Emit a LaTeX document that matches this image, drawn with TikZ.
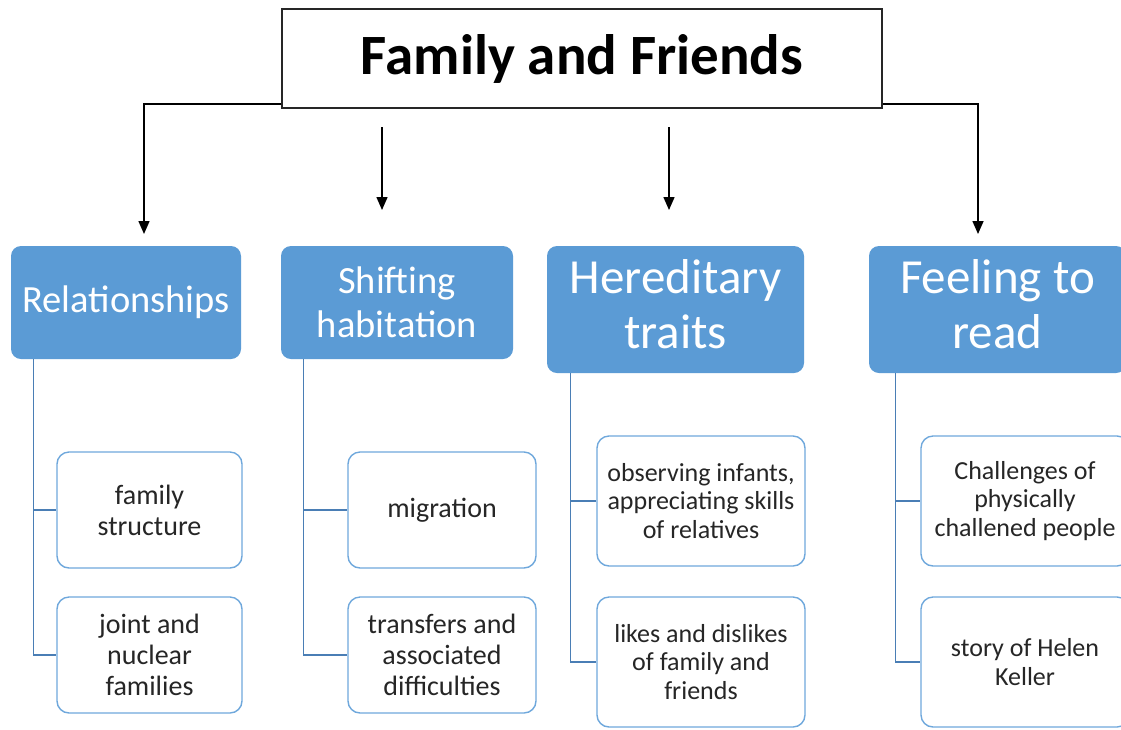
\documentclass[tikz,border=0pt]{standalone}
\usepackage{fontspec}
\setmainfont{Carlito}
\usetikzlibrary{arrows.meta,calc}
\definecolor{hdrblue}{HTML}{5B9BD5}
\definecolor{linkblue}{HTML}{4A7EB5}
\definecolor{childedge}{HTML}{6FA8DC}
\definecolor{txtdark}{HTML}{262626}
\tikzset{
  topbox/.style={draw=black!85, line width=1.4pt, fill=white, minimum width=600pt, minimum height=99pt, inner sep=0pt, font=\fontsize{57}{60}\selectfont\bfseries, text=black},
  hdr/.style={fill=hdrblue, rounded corners=10pt, inner sep=0pt, text=white, align=center},
  hdrsmall/.style={hdr, font=\fontsize{38.5}{44}\selectfont},
  hdrbig/.style={hdr, font=\fontsize{49}{55}\selectfont},
  child/.style={draw=childedge, line width=1.4pt, fill=white, rounded corners=12pt, inner sep=0pt, align=center, text=txtdark},
  childA/.style={child, minimum height=116pt, font=\fontsize{28}{31}\selectfont},
  childB/.style={child, minimum width=208pt, minimum height=130pt, font=\fontsize{26}{28.5}\selectfont},
  conn/.style={draw=linkblue, line width=1.2pt},
  arr/.style={draw=black, line width=1.5pt, -{Triangle[length=13pt,width=11pt]}}
}
\begin{document}
\begin{tikzpicture}[x=1pt,y=-1pt]
\useasboundingbox (0,0) rectangle (1121,729);
\clip (0,0) rectangle (1121,729);
\fill[white] (0,0) rectangle (1121,729);

\node[topbox] (top) at (582,58.5) {Family and Friends};

\node[hdrsmall, minimum width=230pt, minimum height=113pt] (rel) at (126,302.5) {Relationships};
\node[hdrsmall, minimum width=232pt, minimum height=113pt] (shift) at (397,302.5) {Shifting\\habitation};
\node[hdrbig, minimum width=257pt, minimum height=127pt] (her) at (675.5,309.5) {\raisebox{3pt}{\begin{tabular}{@{}c@{}}Hereditary\\traits\end{tabular}}};
\node[hdrbig, minimum width=257pt, minimum height=127pt] (feel) at (997.5,309.5) {\raisebox{3pt}{\begin{tabular}{@{}c@{}}Feeling to\\read\end{tabular}}};

\coordinate (a1) at (144,234);
\coordinate (a2s) at (382,127);
\coordinate (a2e) at (382,210);
\coordinate (a3s) at (669,127);
\coordinate (a3e) at (669,210);
\coordinate (a4) at (978,234);

\draw[arr] ([yshift=-45.5pt]top.west) -| (a1);
\draw[arr] (a2s) -- (a2e);
\draw[arr] (a3s) -- (a3e);
\draw[arr] ([yshift=-45.5pt]top.east) -| (a4);

\node[childA, minimum width=185pt] (rel1) at (149.5,510) {family\\structure};
\node[childA, minimum width=185pt] (rel2) at (149.5,655) {joint and\\nuclear\\families};
\node[childA, minimum width=188pt] (sh1) at (442,510) {migration};
\node[childA, minimum width=188pt] (sh2) at (442,655) {transfers and\\associated\\difficulties};
\node[childB] (her1) at (701,501) {observing infants,\\appreciating skills\\of relatives};
\node[childB] (her2) at (701,662) {likes and dislikes\\of family and\\friends};
\node[childB] (fe1) at (1025,501) {Challenges of\\physically\\challened people};
\node[childB] (fe2) at (1025,662) {story of Helen\\Keller};

\draw[conn] ([xshift=23pt]rel.south west) |- (rel1.west);
\draw[conn] ([xshift=23pt]rel.south west) |- (rel2.west);
\draw[conn] ([xshift=23pt]shift.south west) |- (sh1.west);
\draw[conn] ([xshift=23pt]shift.south west) |- (sh2.west);
\draw[conn] ([xshift=24pt]her.south west) |- (her1.west);
\draw[conn] ([xshift=24pt]her.south west) |- (her2.west);
\draw[conn] ([xshift=27pt]feel.south west) |- (fe1.west);
\draw[conn] ([xshift=27pt]feel.south west) |- (fe2.west);
\end{tikzpicture}
\end{document}
